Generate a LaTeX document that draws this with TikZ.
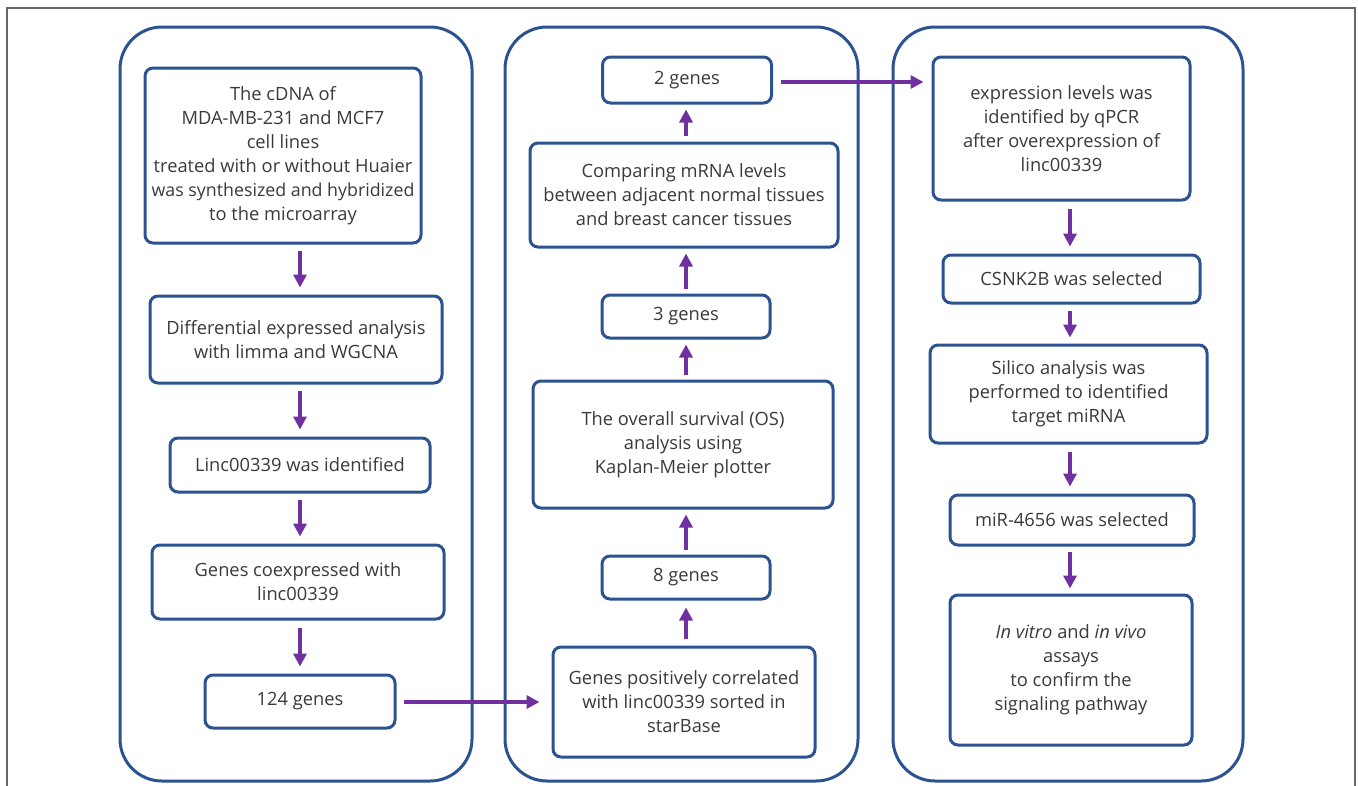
\documentclass[tikz,border=0pt]{standalone}
\usepackage{fontspec}
\setmainfont{Open Sans}
\usetikzlibrary{arrows.meta}
\definecolor{frameblue}{HTML}{2B5291}
\definecolor{arrpurple}{HTML}{7030A0}
\definecolor{txtgray}{HTML}{3A3A3A}
\begin{document}
\begin{tikzpicture}[x=1pt,y=-1pt,
  box/.style={draw=frameblue,line width=3pt,rounded corners=8pt,fill=white,align=center,
    font=\fontsize{18.3}{24}\selectfont,text=txtgray,inner sep=0pt},
  col/.style={draw=frameblue,line width=3pt,rounded corners=42pt},
  arr/.style={draw=arrpurple,line width=3.5pt,-{Triangle[length=13pt,width=13pt]}}]
\useasboundingbox (0,0) rectangle (1358,785);
\draw[gray!80!black,line width=1.2pt] (7,800) -- (7,8) -- (1355,8) -- (1355,800);
% columns
\draw[col] (120,27) rectangle (472,781);
\draw[col] (505,27) rectangle (858,781);
\draw[col] (893,27) rectangle (1243,781);
% column 1
\node[box,minimum width=276pt,minimum height=175pt] (A) at (283,155.5) {The cDNA of\\MDA-MB-231 and MCF7\\cell lines\\treated with or without Huaier\\{\fontsize{17.8}{24}\selectfont was synthesized and hybridized}\\to the microarray};
\node[box,minimum width=292pt,minimum height=87pt] (B) at (296,339.5) {Differential expressed analysis\\with limma and WGCNA};
\node[box,minimum width=260pt,minimum height=54pt] (C) at (300,465) {Linc00339 was identified};
\node[box,minimum width=292pt,minimum height=74pt] (D) at (298,582) {Genes coexpressed with\\linc00339};
\node[box,minimum width=190pt,minimum height=53pt] (E) at (300,701.5) {124 genes};
% column 2
\node[box,minimum width=262pt,minimum height=110pt] (F) at (684,702) {Genes positively correlated\\with linc00339 sorted in\\starBase};
\node[box,minimum width=168pt,minimum height=43pt] (G) at (686,577.5) {8 genes};
\node[box,minimum width=300pt,minimum height=127pt] (H) at (683,444.5) {The overall survival (OS)\\analysis using\\Kaplan-Meier plotter};
\node[box,minimum width=168pt,minimum height=43pt] (I) at (686,316.5) {3 genes};
\node[box,minimum width=308pt,minimum height=104pt] (J) at (684,195) {Comparing mRNA levels\\between adjacent normal tissues\\and breast cancer tissues};
\node[box,minimum width=169pt,minimum height=46pt] (K) at (687,80) {2 genes};
% column 3
\node[box,minimum width=257pt,minimum height=143pt] (L) at (1061.5,128.5) {expression levels was\\identified by qPCR\\after overexpression of\\linc00339};
\node[box,minimum width=257pt,minimum height=48pt] (M) at (1071.5,279) {CSNK2B was selected};
\node[box,minimum width=277pt,minimum height=98pt] (N) at (1068.5,394) {Silico analysis was\\performed to identified\\target miRNA};
\node[box,minimum width=244pt,minimum height=50pt] (O) at (1072,520) {miR-4656 was selected};
\node[box,minimum width=242pt,minimum height=150pt] (P) at (1071,670) {\textit{In vitro} and \textit{in vivo}\\assays\\to confirm the\\signaling pathway};
% arrow guides
\coordinate (x1) at (300,0);
\coordinate (x2) at (686,0);
\coordinate (x3) at (1070,0);
\coordinate (yE) at (0,702);
\coordinate (yK) at (0,82);
% arrows column 1
\draw[arr,shorten <=6pt,shorten >=7pt] (A.south -| x1) -- (B.north -| x1);
\draw[arr,shorten <=6pt,shorten >=7pt] (B.south -| x1) -- (C.north -| x1);
\draw[arr,shorten <=6pt,shorten >=7pt] (C.south -| x1) -- (D.north -| x1);
\draw[arr,shorten <=7pt,shorten >=7pt] (D.south -| x1) -- (E.north -| x1);
\draw[arr,shorten <=7pt,shorten >=12pt] (E.east |- yE) -- (F.west |- yE);
% arrows column 2
\draw[arr,shorten <=7pt,shorten >=7pt] (F.north -| x2) -- (G.south -| x2);
\draw[arr,shorten <=5pt,shorten >=5pt] (G.north -| x2) -- (H.south -| x2);
\draw[arr,shorten <=5pt,shorten >=5pt] (H.north -| x2) -- (I.south -| x2);
\draw[arr,shorten <=5pt,shorten >=5pt] (I.north -| x2) -- (J.south -| x2);
\draw[arr,shorten <=6pt,shorten >=5pt] (J.north -| x2) -- (K.south -| x2);
\draw[arr,shorten <=8pt,shorten >=8pt] (K.east |- yK) -- (L.west |- yK);
% arrows column 3
\draw[arr,shorten <=7pt,shorten >=7pt] (L.south -| x3) -- (M.north -| x3);
\draw[arr,shorten <=6pt,shorten >=6pt] (M.south -| x3) -- (N.north -| x3);
\draw[arr,shorten <=7pt,shorten >=7pt] (N.south -| x3) -- (O.north -| x3);
\draw[arr,shorten <=5pt,shorten >=5pt] (O.south -| x3) -- (P.north -| x3);
\end{tikzpicture}
\end{document}
